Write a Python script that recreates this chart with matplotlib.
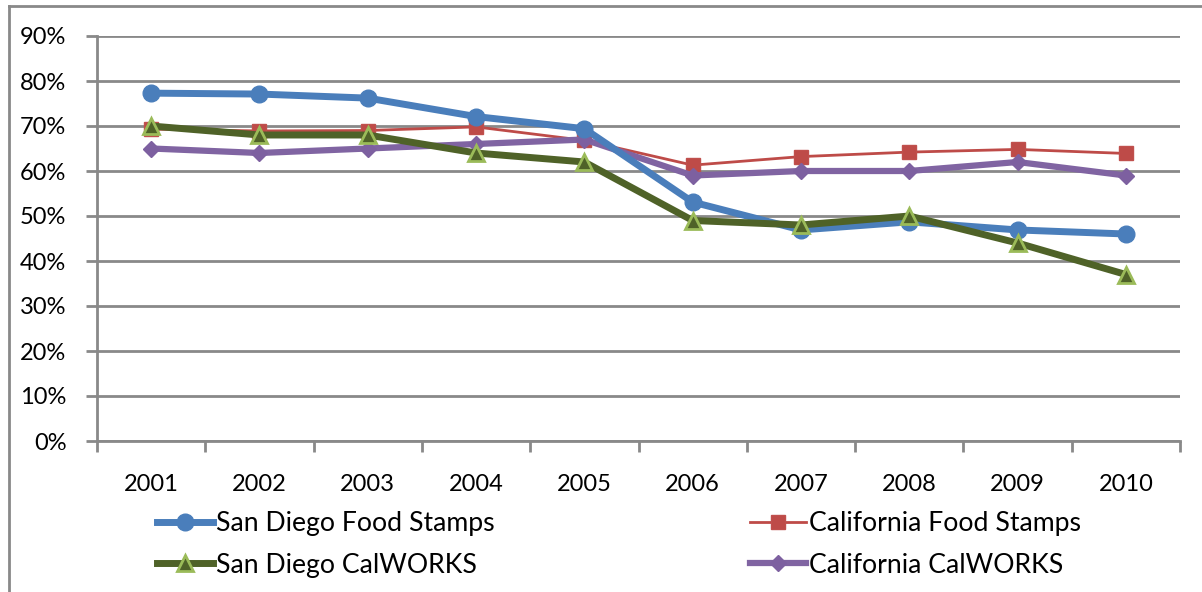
import numpy as np
import matplotlib.pyplot as plt
from matplotlib.ticker import FuncFormatter, FixedLocator
from matplotlib.lines import Line2D

plt.rcParams['font.family'] = ['Lato', 'DejaVu Sans']
plt.rc('font', size=17)

years = ['2001', '2002', '2003', '2004', '2005', '2006', '2007', '2008', '2009', '2010']
sd_food_stamps = [77.3, 77.1, 76.2, 72.1, 69.4, 53.1, 46.9, 48.7, 46.9, 46.0]
ca_food_stamps = [69.3, 68.9, 69.0, 69.8, 66.8, 61.3, 63.2, 64.2, 64.8, 63.9]
sd_calworks    = [70, 68, 68, 64, 62, 49, 48, 50, 44, 37]
ca_calworks    = [65, 64, 65, 66, 67, 59, 60, 60, 62, 59]

W, H = 1202, 592
fig = plt.figure(figsize=(W / 100, H / 100), dpi=100, facecolor='w')
ax = fig.add_axes([97 / W, 1 - 441 / H, (1180 - 97) / W, (441 - 36) / H])

x = np.arange(len(years))
grid = '#898989'

# chart frame (runs off the right and bottom)
fig.add_artist(Line2D([9 / W, 1.0], [1 - 6 / H] * 2, color=grid, lw=2))
fig.add_artist(Line2D([9 / W] * 2, [1 - 6 / H, 0], color=grid, lw=2))

ax.plot(x, ca_food_stamps, color='#BE4B48', lw=2, marker='s', ms=10.5,
        mfc='#BE4B48', mec='#C0504D', label='California Food Stamps', zorder=3)
ax.plot(x, ca_calworks, color='#8064A2', lw=4.5, marker='D', ms=8.5,
        mfc='#7D60A0', mec='#7D60A0', label='California CalWORKS', zorder=4)
ax.plot(x, sd_food_stamps, color='#4A7EBB', lw=5, marker='o', ms=12,
        mfc='#4A7EBB', mec='#4A7EBB', label='San Diego Food Stamps', zorder=5)
ax.plot(x, sd_calworks, color='#4F6228', lw=5, marker='^', ms=11,
        mfc='#4F6228', mec='#9BBB59', mew=2, label='San Diego CalWORKS', zorder=6)

ax.set_xlim(-0.5, len(years) - 0.5)
ax.set_ylim(0, 90)
ax.set_yticks(np.arange(0, 91, 10))
ax.yaxis.set_major_formatter(FuncFormatter(lambda v, p: '%d%%' % v))
ax.yaxis.grid(True, color=grid, lw=2)
ax.set_axisbelow(True)

ax.set_xticks(x)
ax.set_xticklabels(years)
ax.xaxis.set_minor_locator(FixedLocator(np.arange(-0.5, len(years), 1)))
ax.tick_params(axis='x', which='major', length=0, pad=24)
ax.tick_params(axis='x', which='minor', length=8, width=2, color=grid)
ax.tick_params(axis='y', length=8, width=2, color=grid, pad=14)

for s in ['top', 'right']:
    ax.spines[s].set_visible(False)
for s in ['left', 'bottom']:
    ax.spines[s].set_color(grid)
    ax.spines[s].set_linewidth(2)

h, l = ax.get_legend_handles_labels()
order = {lab: hd for hd, lab in zip(h, l)}
kw = dict(frameon=False, handlelength=2.1, handletextpad=0.1,
          labelspacing=0.62, borderpad=0, borderaxespad=0, fontsize=19.2)
fig.legend([order['San Diego Food Stamps'], order['San Diego CalWORKS']],
           ['San Diego Food Stamps', 'San Diego CalWORKS'],
           loc='upper left', bbox_to_anchor=(157 / W, 1 - 511 / H), **kw)
fig.legend([order['California Food Stamps'], order['California CalWORKS']],
           ['California Food Stamps', 'California CalWORKS'],
           loc='upper left', bbox_to_anchor=(750 / W, 1 - 511 / H), **kw)

fig.savefig('out.png', dpi=100)
